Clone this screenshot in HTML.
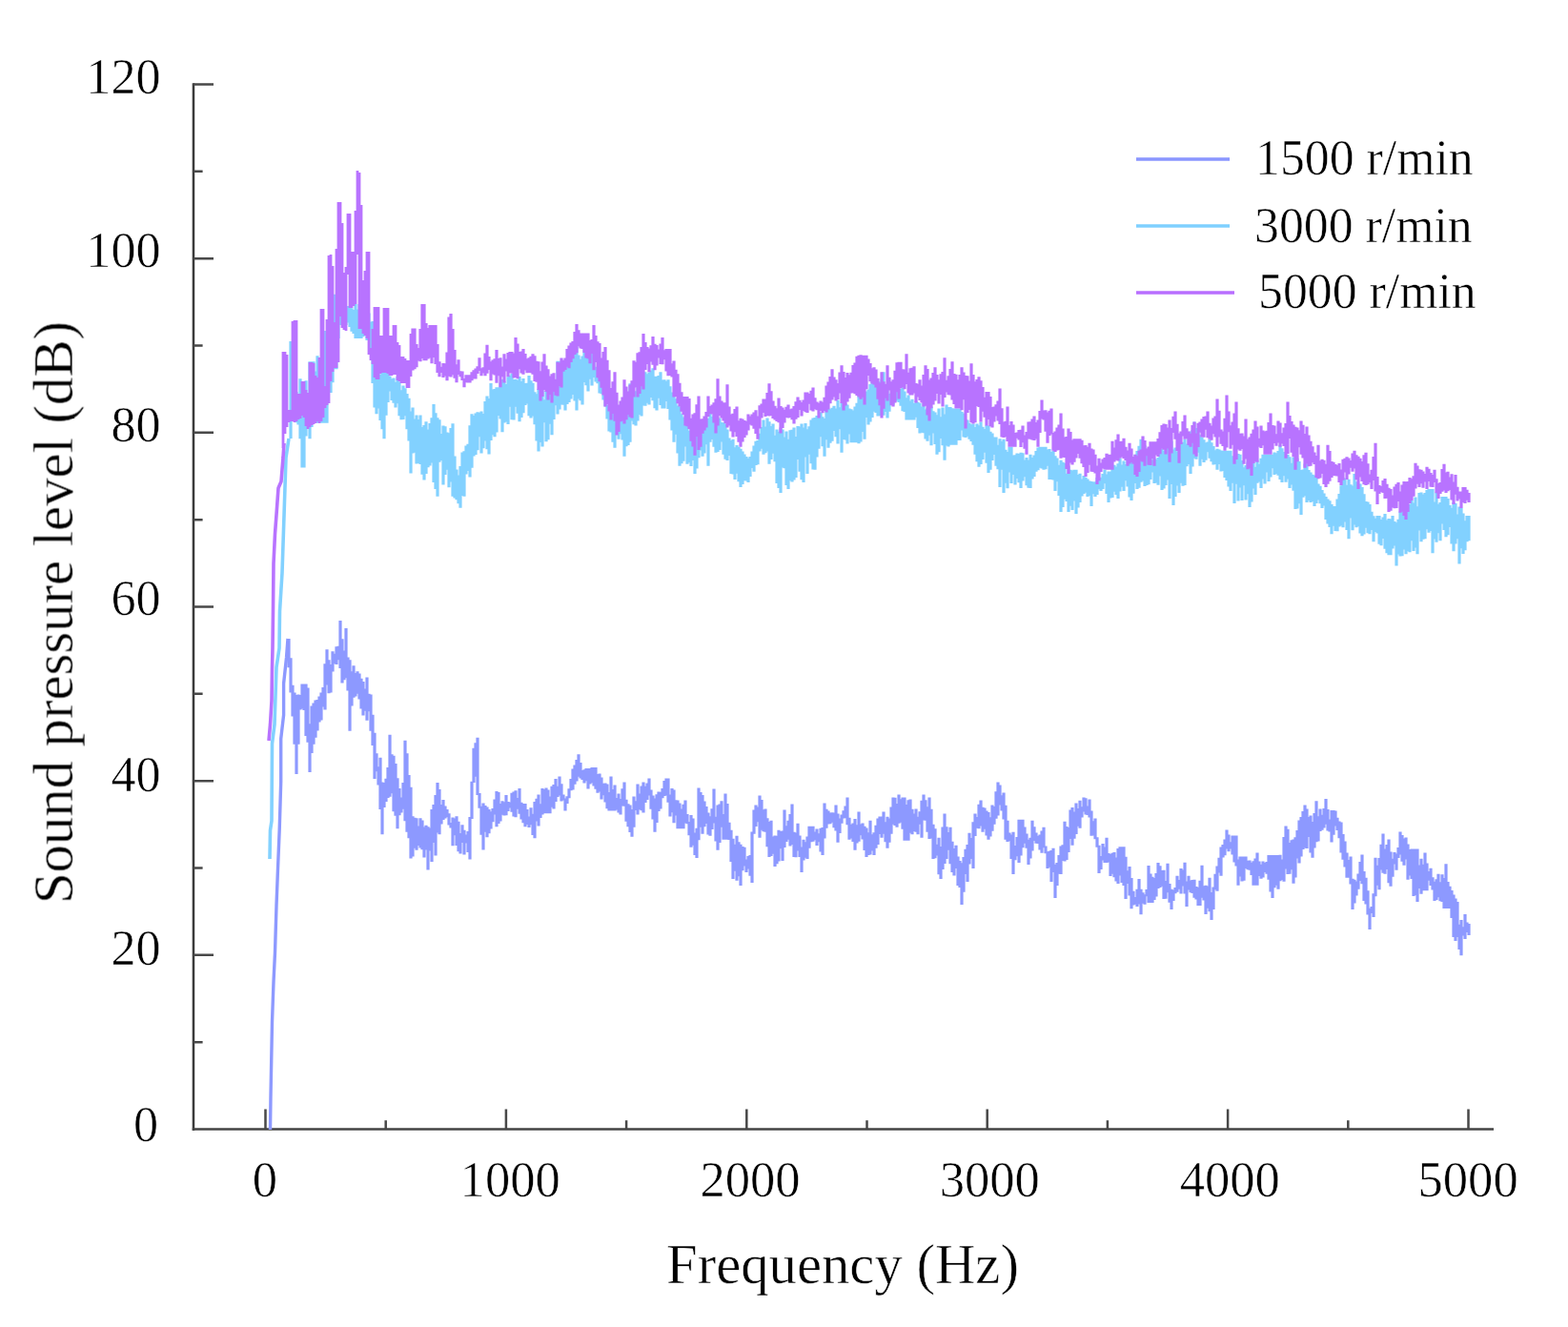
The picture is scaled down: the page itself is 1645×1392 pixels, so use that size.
<!DOCTYPE html>
<html lang="en">
<head>
<meta charset="utf-8">
<title>Sound pressure level vs frequency</title>
<style>
html,body{margin:0;padding:0;background:#ffffff;}
body{width:1645px;height:1392px;overflow:hidden;}
svg{display:block;}
text{font-family:"Liberation Serif","DejaVu Serif",serif;fill:#000;stroke:#fff;stroke-width:0.55px;stroke-linejoin:round;}
.ln{fill:none;stroke-linejoin:bevel;stroke-linecap:butt;}
</style>
</head>
<body>
<svg width="1645" height="1392" viewBox="0 0 1645 1392">
<defs>
<filter id="soft" x="-2%" y="-2%" width="104%" height="104%" color-interpolation-filters="sRGB"><feGaussianBlur stdDeviation="0.7"/></filter>
</defs>
<rect width="1645" height="1392" fill="#ffffff"/>
<g id="chart" filter="url(#soft)">
<g id="axes">
<path d="M202.7 87.3 V1186.1" fill="none" stroke="#9a9a9a" stroke-opacity="0.3" stroke-width="3.8"/>
<path d="M203 87.3 V1186.1" fill="none" stroke="#3a3a3a" stroke-width="2.3"/>
<path d="M201.8 1184.5 H1567" fill="none" stroke="#444444" stroke-width="2.6"/>
<path d="M203 1093.2 h9.6 M203 1001.8 h21 M203 910.5 h9.6 M203 819.2 h21 M203 727.8 h9.6 M203 636.5 h21 M203 545.2 h9.6 M203 453.8 h21 M203 362.5 h9.6 M203 271.2 h21 M203 179.8 h9.6 M203 88.5 h21 M278.5 1184.5 v-21 M404.7 1184.5 v-9.3 M530.9 1184.5 v-21 M657.1 1184.5 v-9.3 M783.3 1184.5 v-21 M909.5 1184.5 v-9.3 M1035.7 1184.5 v-21 M1161.9 1184.5 v-9.3 M1288.1 1184.5 v-21 M1414.3 1184.5 v-9.3 M1540.5 1184.5 v-21" fill="none" stroke="#484848" stroke-width="2.5"/>
</g>
<g id="labels">
<text x="166.2" y="1197.1" text-anchor="end" font-size="52.2">0</text>
<text x="168.6" y="1012.1" text-anchor="end" font-size="52.2">20</text>
<text x="168.6" y="830.3" text-anchor="end" font-size="52.2">40</text>
<text x="168.6" y="644.9" text-anchor="end" font-size="52.2">60</text>
<text x="168.6" y="463.3" text-anchor="end" font-size="52.2">80</text>
<text x="168.6" y="279.8" text-anchor="end" font-size="52.2">100</text>
<text x="168.6" y="98.4" text-anchor="end" font-size="52.2">120</text>
<text x="277.8" y="1255.4" text-anchor="middle" font-size="52.6">0</text>
<text x="535.2" y="1255.4" text-anchor="middle" font-size="52.6">1000</text>
<text x="787.0" y="1255.4" text-anchor="middle" font-size="52.6">2000</text>
<text x="1038.3" y="1255.4" text-anchor="middle" font-size="52.6">3000</text>
<text x="1290.3" y="1255.4" text-anchor="middle" font-size="52.6">4000</text>
<text x="1540.1" y="1255.4" text-anchor="middle" font-size="52.6">5000</text>
<text x="884" y="1345.6" text-anchor="middle" font-size="58.7">Frequency (Hz)</text>
<text transform="translate(75.8,642.5) rotate(-90)" text-anchor="middle" font-size="58.7">Sound pressure level (dB)</text>
</g>
<g id="series">
<path class="ln" stroke="#8d99ff" stroke-width="3.4" d="M283.5 1185.0 L284.0 1150.0 L285.5 1072.0 L287.0 1030.0 L288.5 999.0 L290.0 950.0 L291.4 914.0 L293.2 870.0 L294.7 820.0 L294.7 775.0 L297.6 750.0 L297.6 717.0 L300.5 690.0 L302.0 670.0"/>
<path class="ln" stroke="#8d99ff" stroke-width="3.2" d="M303 670.0V700.3M305 690.3V726.5M307 718.7V751.6M309 726.5V780.8M311 729.0V811.9M313 728.5V780.8M315 729.0V744.6M317 717.4V743.4M319 717.4V745.0M321 717.4V772.1M323 721.4V778.8M325 759.2V809.9M327 740.5V790.1M329 737.5V780.8M331 734.5V773.7M333 733.9V766.6M335 730.4V757.4M337 726.5V755.6M339 720.9V741.4M341 696.3V744.6M343 681.2V718.6M345 692.3V727.3M347 696.9V726.5M349 683.2V704.4M351 685.7V696.3M353 678.2V697.0M355 677.7V692.2M357 651.1V700.9M359 670.2V716.4M361 682.5V713.2M363 659.1V711.2M365 689.5V724.5M367 692.3V766.7M369 704.2V740.5M371 698.3V731.7M373 706.1V730.5M375 704.3V727.7M377 706.4V733.4M379 711.8V743.4M381 715.0V750.6M383 722.4V745.8M385 710.4V755.7M387 727.8V746.3M389 728.5V766.7M391 749.7V781.9M393 768.7V817.0M395 790.2V809.2M397 804.2V823.5M399 794.8V849.1M401 820.5V875.3M403 821.0V847.1M405 816.8V841.1M407 804.9V837.1M409 770.7V835.7M411 791.2V832.2M413 792.8V851.2M415 800.9V855.8M417 816.3V869.3M419 827.0V855.3M421 836.6V852.4M423 821.0V848.7M425 776.7V861.2M427 790.2V872.8M429 812.9V879.3M431 825.8V900.4M433 856.2V898.6M435 857.8V889.8M437 858.3V891.7M439 866.5V887.0M441 858.2V889.4M443 860.5V891.3M445 867.5V899.4M447 865.7V891.5M449 867.2V912.5M451 868.6V892.4M453 849.1V903.9M455 844.1V884.0M457 834.0V897.4M459 821.0V873.6M461 827.9V875.3M463 844.0V864.5M465 839.1V860.1M467 845.6V858.4M469 848.9V857.2M471 853.2V865.4M473 863.0V868.6M475 857.4V887.3M477 858.4V876.3M479 856.2V887.0M481 861.8V893.2M483 873.9V895.4M485 865.2V883.9M487 870.7V896.5M489 875.6V884.5M491 872.0V893.9M493 857.1V901.4M495 819.7V859.1M497 784.8V821.0M499 779.2V814.7M501 773.7V834.1M503 832.1V847.8M505 845.8V875.7M507 842.6V891.4M509 845.1V872.8M511 846.5V878.3M513 849.0V874.3M515 851.3V869.6M517 848.1V862.3M519 838.6V854.4M521 830.0V867.2M523 831.1V864.1M525 843.1V861.4M527 840.3V854.7M529 841.3V855.6M531 834.1V855.2M533 840.9V850.9M535 841.5V847.5M537 831.7V851.7M539 830.5V856.6M541 829.2V857.2M543 837.1V848.7M545 827.0V853.7M547 841.8V859.5M549 843.0V863.3M551 843.1V867.2M553 849.1V864.9M555 856.5V868.0M557 847.2V865.2M559 853.7V876.1M561 841.1V879.3M563 837.7V861.5M565 833.6V866.4M567 843.2V857.9M569 827.0V854.4M571 828.0V853.2M573 826.5V853.2M575 828.6V853.2M577 835.5V853.2M579 824.7V846.7M581 822.9V848.6M583 817.0V841.1M585 824.8V835.9M587 814.4V834.5M589 822.2V840.6M591 833.6V839.6M593 837.6V850.6M595 835.3V843.0M597 827.2V837.3M599 817.0V829.2M601 806.4V828.5M603 802.5V822.8M605 797.0V819.4M607 791.3V814.7M609 800.0V816.4M611 808.0V818.1M613 807.2V821.6M615 805.9V819.2M617 805.9V827.5M619 805.9V822.5M621 804.9V821.3M623 804.9V824.5M625 804.9V827.7M627 812.0V831.7M629 811.5V830.5M631 815.4V838.5M633 821.7V834.2M635 821.4V841.6M637 822.4V848.3M639 831.1V850.6M641 814.4V850.6M643 828.0V850.6M645 823.5V850.6M647 837.1V849.5M649 832.5V852.6M651 838.1V854.6M653 827.3V845.6M655 820.4V845.8M657 838.8V861.7M659 843.2V867.3M661 844.6V872.9M663 849.1V877.8M665 835.5V867.7M667 840.3V850.0M669 822.4V854.6M671 832.4V849.3M673 824.6V850.2M675 820.4V852.6M677 824.7V841.9M679 821.4V839.0M681 816.4V834.5M683 828.6V848.7M685 834.5V859.4M687 837.4V872.7M689 833.3V863.0M691 830.5V851.0M693 830.7V848.6M695 827.0V837.2M697 818.9V835.1M699 816.4V834.5M701 816.4V841.7M703 833.4V856.6M705 826.9V852.2M707 828.5V863.3M709 839.3V855.4M711 839.5V869.2M713 842.6V869.2M715 848.5V869.2M717 843.7V869.2M719 839.5V863.5M721 854.1V864.2M723 862.0V876.2M725 855.1V888.8M727 858.6V886.7M729 873.5V896.9M731 868.7V899.9M733 826.5V881.2M735 831.0V867.7M737 834.0V874.7M739 840.5V867.2M741 846.0V864.0M743 852.6V875.6M745 856.2V876.7M747 848.2V869.9M749 827.5V863.6M751 856.7V882.4M753 844.6V891.8M755 843.4V884.0M757 840.2V867.8M759 854.0V880.8M761 832.5V880.8M763 842.9V880.8M765 862.7V881.1M767 870.7V904.0M769 879.7V922.0M771 885.7V913.8M773 876.7V923.7M775 883.2V919.3M777 885.7V929.0M779 887.9V913.2M781 888.8V908.5M783 901.6V915.0M785 898.1V911.4M787 896.9V918.7M789 872.4V926.0M791 849.6V874.7M793 844.5V867.0M795 846.5V862.3M797 834.5V878.8M799 839.1V870.7M801 849.2V872.3M803 848.6V872.7M805 858.3V888.2M807 862.0V898.9M809 860.7V897.9M811 877.4V895.7M813 876.6V908.9M815 876.7V906.2M817 870.7V903.6M819 871.9V890.2M821 871.5V902.9M823 849.6V889.0M825 866.2V883.0M827 860.7V880.8M829 853.9V887.4M831 843.6V885.9M833 872.7V898.9M835 873.5V899.2M837 863.7V892.6M839 876.6V899.1M841 888.4V915.0M843 880.8V902.4M845 883.2V899.7M847 877.6V900.9M849 866.7V889.7M851 866.7V883.2M853 866.7V882.8M855 872.6V881.3M857 869.5V886.9M859 874.2V883.3M861 868.7V893.6M863 868.1V896.9M865 842.6V879.5M867 848.8V868.7M869 850.6V864.5M871 852.6V864.2M873 852.3V862.7M875 852.6V868.2M877 844.6V871.6M879 853.5V883.8M881 858.6V874.1M883 854.5V863.7M885 850.3V858.6M887 845.5V858.3M889 836.5V865.2M891 857.8V880.8M893 864.7V879.6M895 863.4V883.1M897 859.0V891.8M899 865.3V884.4M901 851.6V882.8M903 864.6V876.2M905 863.6V880.4M907 866.7V892.0M909 868.6V898.9M911 873.2V896.9M913 860.7V896.6M915 875.2V892.4M917 873.3V896.9M919 865.8V889.8M921 858.6V886.0M923 856.4V874.9M925 856.4V878.8M927 851.6V874.7M929 862.2V883.2M931 856.7V889.8M933 858.6V883.7M935 846.5V874.7M937 836.5V864.7M939 836.8V865.9M941 843.0V867.7M943 833.5V863.7M945 838.3V862.7M947 836.4V869.7M949 836.5V881.8M951 844.1V881.8M953 839.3V881.8M955 838.5V873.7M957 848.8V875.3M959 853.4V871.9M961 848.6V872.7M963 856.8V875.2M965 851.3V864.7M967 839.7V878.8M969 833.5V860.6M971 839.3V860.7M973 846.2V872.7M975 836.5V880.1M977 848.8V879.6M979 864.7V900.9M981 869.2V900.3M983 885.7V897.5M985 878.8V917.2M987 888.1V922.0M989 867.4V912.1M991 853.6V906.0M993 867.2V900.9M995 872.9V891.8M997 867.7V906.3M999 882.7V915.0M1001 889.9V918.4M1003 886.8V910.9M1005 898.6V929.0M1007 903.1V931.0M1009 905.2V949.1M1011 898.9V935.8M1013 890.8V917.0M1015 886.1V925.0M1017 873.7V906.5M1019 878.9V901.0M1021 862.2V910.9M1023 853.6V876.9M1025 857.0V868.7M1027 843.7V869.2M1029 839.5V866.4M1031 846.7V872.7M1033 847.5V869.8M1035 850.6V876.5M1037 851.9V880.8M1039 857.3V877.4M1041 844.6V871.7M1043 846.1V864.7M1045 830.2V858.7M1047 820.4V855.4M1049 823.4V844.6M1051 834.2V850.6M1053 831.5V859.4M1055 844.7V880.8M1057 860.7V883.1M1059 873.4V882.2M1061 875.4V900.9M1063 872.7V917.0M1065 886.9V902.2M1067 877.9V898.3M1069 859.7V904.9M1071 859.7V897.5M1073 859.7V889.2M1075 867.6V884.8M1077 874.5V889.7M1079 880.8V906.9M1081 878.8V900.6M1083 860.7V892.6M1085 867.3V882.0M1087 873.4V884.8M1089 876.7V884.9M1091 875.6V891.4M1093 871.4V894.8M1095 867.7V889.3M1097 887.4V895.2M1099 893.2V910.9M1101 892.8V909.8M1103 891.9V925.0M1105 889.8V915.1M1107 906.8V942.1M1109 905.1V928.9M1111 896.9V916.8M1113 887.6V917.0M1115 886.2V902.9M1117 861.7V903.6M1119 867.0V901.9M1121 868.1V894.1M1123 849.6V880.1M1125 847.1V886.8M1127 851.5V879.8M1129 842.6V874.9M1131 847.9V866.7M1133 839.7V868.7M1135 846.2V857.4M1137 836.5V851.6M1139 837.3V854.6M1141 845.5V854.9M1143 838.5V857.5M1145 850.5V876.7M1147 861.3V876.4M1149 858.6V880.2M1151 878.2V888.8M1153 886.8V916.0M1155 897.9V911.9M1157 885.1V902.5M1159 888.4V904.9M1161 878.8V905.1M1163 895.0V904.6M1165 896.1V919.0M1167 894.8V916.8M1169 893.9V920.2M1171 899.4V924.5M1173 890.0V927.0M1175 888.3V918.5M1177 888.3V925.9M1179 888.3V928.9M1181 898.7V943.1M1183 913.2V926.9M1185 908.9V939.6M1187 920.9V953.2M1189 934.7V949.4M1191 941.1V948.8M1193 932.7V951.0M1195 922.0V948.5M1197 932.8V959.2M1199 936.2V947.7M1201 938.2V948.7M1203 933.1V940.2M1205 907.9V947.1M1207 916.5V947.1M1209 919.8V947.1M1211 921.0V943.9M1213 915.9V940.4M1215 904.9V931.9M1217 908.3V931.0M1219 913.0V929.8M1221 912.8V943.0M1223 924.1V942.7M1225 905.7V936.3M1227 927.0V946.7M1229 932.8V953.9M1231 933.5V945.0M1233 931.1V937.2M1235 918.8V935.7M1237 922.9V932.8M1239 911.0V937.6M1241 912.5V929.4M1243 904.7V937.4M1245 924.5V950.9M1247 918.8V933.4M1249 923.5V936.2M1251 923.0V936.9M1253 922.8V941.8M1255 930.0V943.4M1257 930.8V949.9M1259 923.8V950.1M1261 907.7V941.8M1263 929.3V944.6M1265 928.8V959.0M1267 929.4V952.7M1269 920.8V956.3M1271 936.1V965.0M1273 930.5V954.0M1275 916.7V933.3M1277 908.4V934.8M1279 899.8V915.5M1281 888.6V918.8M1283 886.0V899.5M1285 880.5V897.2M1287 870.5V890.6M1289 875.6V893.2M1291 883.3V890.5M1293 876.5V896.6M1295 876.5V904.5M1297 876.5V908.4M1299 901.4V928.8M1301 898.6V919.4M1303 898.6V924.4M1305 898.6V923.8M1307 898.6V911.0M1309 902.8V912.3M1311 902.5V912.7M1313 904.7V918.1M1315 903.3V928.8M1317 900.4V928.8M1319 894.6V928.8M1321 903.4V919.1M1323 906.7V921.8M1325 903.4V920.5M1327 905.0V914.9M1329 904.1V916.7M1331 897.1V922.7M1333 897.1V935.5M1335 897.1V941.9M1337 897.1V931.3M1339 897.1V928.8M1341 897.1V932.8M1343 896.8V924.2M1345 901.4V923.1M1347 878.1V924.8M1349 866.5V911.4M1351 869.7V916.9M1353 883.9V916.7M1355 881.2V912.2M1357 880.5V926.8M1359 878.3V920.5M1361 871.1V900.6M1363 860.4V905.6M1365 857.0V898.6M1367 850.9V890.9M1369 844.4V889.6M1371 848.5V890.1M1373 856.9V878.1M1375 855.4V894.6M1377 862.1V899.7M1379 853.1V889.4M1381 840.3V883.3M1383 856.3V882.6M1385 848.4V872.1M1387 854.8V870.8M1389 848.0V868.5M1391 837.9V864.8M1393 849.1V871.5M1395 859.4V872.5M1397 849.9V883.6M1399 849.9V875.7M1401 850.4V866.5M1403 857.8V871.1M1405 861.4V879.3M1407 862.4V894.6M1409 874.9V901.7M1411 882.6V909.4M1413 894.6V920.8M1415 902.0V920.8M1417 898.6V927.6M1419 921.7V953.9M1421 922.8V947.6M1423 924.5V939.5M1425 916.5V932.8M1427 904.1V923.9M1429 896.6V927.3M1431 914.1V944.9M1433 920.8V948.6M1435 934.2V959.4M1437 952.7V975.1M1439 950.9V957.9M1441 937.3V962.0M1443 899.7V940.2M1445 907.8V928.7M1447 900.1V933.3M1449 885.8V912.6M1451 874.5V915.7M1453 890.6V916.7M1455 886.0V912.1M1457 880.5V926.2M1459 893.6V929.8M1461 900.7V919.8M1463 893.9V906.6M1465 895.5V912.7M1467 888.9V899.9M1469 872.5V896.4M1471 875.9V903.7M1473 879.4V907.8M1475 878.5V901.4M1477 885.6V922.8M1479 891.1V918.6M1481 890.6V922.0M1483 890.6V939.9M1485 890.6V939.0M1487 890.6V945.9M1489 907.4V932.1M1491 900.7V937.8M1493 906.7V934.3M1495 894.6V934.3M1497 905.4V934.3M1499 913.9V923.8M1501 910.7V929.0M1503 920.2V933.6M1505 924.8V944.9M1507 922.3V944.1M1509 916.7V941.2M1511 925.2V945.2M1513 917.2V945.9M1515 921.1V952.9M1517 906.3V952.9M1519 924.9V952.9M1521 929.8V952.9M1523 933.9V962.9M1525 938.4V983.1M1527 942.6V987.1M1529 945.9V982.9M1531 969.8V995.9M1533 965.0V1002.2M1535 972.2V981.4M1537 959.0V985.1M1539 967.4V978.1M1541 969.0V981.1"/>
<path class="ln" stroke="#82d1ff" stroke-width="3.6" d="M283.0 901.0 L283.5 871.0 L285.0 861.0 L285.5 780.0 L288.0 760.0 L290.0 700.0 L293.0 680.0 L293.5 641.0 L296.0 601.0 L298.0 541.0 L300.0 480.0 L303.0 460.0"/>
<path class="ln" stroke="#82d1ff" stroke-width="3.2" d="M305 358.1V460.0M307 404.8V408.6M309 371.2V418.6M311 411.0V443.2M313 415.1V445.4M315 397.3V460.3M317 418.1V490.5M319 418.6V490.5M321 399.3V457.4M323 425.1V446.0M325 379.2V460.3M327 379.2V448.1M329 379.2V443.7M331 389.5V443.7M333 373.2V443.7M335 376.3V443.7M337 381.3V443.7M339 375.7V443.7M341 347.0V443.7M343 387.9V443.7M345 341.0V399.9M347 324.8V412.1M349 308.8V401.3M351 308.8V387.2M353 316.2V387.2M355 324.2V355.0M357 326.9V341.0M359 325.8V341.0M361 326.6V341.0M363 323.8V341.0M365 320.9V338.5M367 320.9V343.1M369 323.3V347.8M371 325.0V350.0M373 318.9V355.1M375 324.4V355.1M377 318.9V355.1M379 314.8V355.1M381 315.7V353.3M383 316.7V339.9M385 312.8V357.1M387 328.5V352.8M389 337.7V369.1M391 337.0V402.0M393 361.9V427.5M395 370.0V434.2M397 381.2V428.6M399 392.8V441.0M401 385.9V450.3M403 390.3V460.3M405 387.2V435.7M407 391.5V422.1M409 394.4V410.5M411 397.3V420.1M413 396.6V422.7M415 400.8V427.4M417 395.3V423.2M419 400.5V436.3M421 409.2V440.2M423 404.6V440.1M425 407.3V436.2M427 413.0V450.3M429 417.7V462.4M431 431.6V496.5M433 427.5V475.4M435 439.4V474.7M437 435.4V486.5M439 439.9V486.0M441 435.5V486.9M443 448.0V497.8M445 446.0V503.6M447 442.2V497.0M449 450.6V490.2M451 444.0V488.5M453 438.2V485.6M455 424.1V506.0M457 433.3V513.0M459 438.2V520.7M461 440.2V484.7M463 455.1V483.1M465 446.4V508.6M467 447.3V498.0M469 453.4V492.7M471 454.3V511.3M473 449.1V505.5M475 444.2V520.7M477 478.4V522.5M479 492.5V524.2M481 498.5V528.2M483 488.9V532.7M485 474.4V520.0M487 473.2V520.7M489 467.4V497.6M491 465.7V494.0M493 446.3V500.5M495 434.2V490.7M497 436.0V478.4M499 433.4V477.0M501 432.2V472.2M503 432.7V458.3M505 431.4V475.4M507 434.1V470.3M509 421.1V462.5M511 415.4V471.3M513 418.1V476.4M515 402.0V462.1M517 408.6V456.3M519 408.0V458.3M521 406.3V453.6M523 406.2V436.0M525 401.4V439.6M527 398.0V453.3M529 400.0V443.5M531 403.0V442.6M533 395.2V445.0M535 393.8V426.8M537 392.0V440.2M539 397.9V440.5M541 397.8V426.7M543 398.8V433.8M545 395.1V442.2M547 400.1V438.1M549 397.1V433.2M551 402.0V424.9M553 401.7V423.4M555 394.0V436.2M557 399.2V438.4M559 401.8V436.5M561 411.2V445.3M563 413.2V462.6M565 408.0V473.4M567 409.2V464.0M569 409.2V468.6M571 419.3V443.2M573 410.1V463.3M575 407.7V461.3M577 405.6V444.8M579 395.9V456.3M581 400.0V440.1M583 398.1V425.2M585 378.7V434.5M587 378.7V429.6M589 378.7V424.4M591 378.7V424.8M593 387.0V430.5M595 379.7V424.0M597 374.2V421.9M599 375.2V418.4M601 369.0V414.0M603 370.0V420.4M605 364.1V430.5M607 372.6V418.4M609 376.8V420.2M611 373.4V424.5M613 366.1V401.1M615 366.1V404.3M617 366.1V410.4M619 366.1V397.8M621 368.7V404.4M623 379.1V395.9M625 384.7V400.5M627 388.2V402.2M629 392.3V412.4M631 405.9V413.3M633 411.3V419.6M635 416.4V426.5M637 424.8V439.6M639 426.4V452.6M641 428.5V453.6M643 433.3V463.7M645 436.3V469.7M647 435.8V453.0M649 436.5V460.7M651 433.9V455.3M653 432.6V461.4M655 427.1V478.8M657 420.4V468.2M659 413.3V466.9M661 402.3V463.7M663 404.5V441.6M665 411.2V445.3M667 410.2V446.6M669 406.4V441.4M671 401.9V434.9M673 400.0V436.5M675 393.3V425.5M677 390.3V425.7M679 392.2V422.7M681 390.4V424.5M683 388.5V417.1M685 386.3V420.2M687 394.8V428.3M689 394.8V430.5M691 393.9V417.7M693 390.3V425.1M695 398.4V428.4M697 398.3V428.5M699 399.7V421.0M701 398.3V428.9M703 405.3V440.5M705 411.5V451.5M707 412.4V463.7M709 418.3V455.7M711 425.5V475.6M713 426.5V488.8M715 434.3V486.3M717 437.4V483.7M719 446.0V468.6M721 440.5V486.8M723 452.1V485.3M725 447.2V489.0M727 450.8V483.0M729 452.6V496.9M731 457.7V491.5M733 456.2V480.2M735 451.4V472.6M737 448.6V478.8M739 449.7V475.5M741 442.8V466.2M743 439.1V488.8M745 426.5V463.7M747 437.1V461.1M749 434.9V468.8M751 436.5V474.7M753 439.6V473.9M755 438.5V472.1M757 443.1V463.5M759 443.2V476.7M761 444.6V481.7M763 450.4V483.0M765 459.5V478.0M767 462.1V496.9M769 460.7V497.6M771 469.3V502.9M773 467.0V496.7M775 468.7V505.2M777 470.7V510.9M779 473.6V507.9M781 476.6V504.3M783 479.0V504.4M785 480.8V505.9M787 479.1V500.1M789 473.4V491.0M791 467.6V494.8M793 462.7V487.9M795 461.9V487.2M797 454.7V473.6M799 448.1V470.8M801 440.5V476.7M803 447.6V475.2M805 438.5V473.5M807 442.2V486.8M809 447.1V481.9M811 444.6V475.7M813 456.8V484.2M815 450.5V506.9M817 452.7V512.0M819 448.6V517.0M821 450.5V490.6M823 458.5V491.3M825 452.6V509.0M827 460.7V512.9M829 451.3V504.3M831 450.8V505.5M833 448.6V503.5M835 458.1V500.9M837 446.9V482.0M839 447.4V494.7M841 444.6V503.3M843 448.4V505.9M845 444.0V479.5M847 450.3V496.9M849 447.2V476.7M851 440.5V486.3M853 438.5V492.6M855 437.9V492.8M857 436.1V479.6M859 436.4V470.7M861 432.5V458.2M863 437.2V468.3M865 439.1V478.8M867 430.2V461.3M869 428.5V469.8M871 429.3V464.7M873 427.8V462.7M875 425.8V451.9M877 428.5V458.3M879 419.4V465.6M881 427.2V450.3M883 422.5V474.7M885 428.3V461.0M887 423.2V461.5M889 424.5V465.6M891 428.5V455.6M893 429.3V464.2M895 430.5V464.2M897 426.5V464.2M899 422.7V464.2M901 406.4V465.2M903 408.3V463.4M905 414.2V452.9M907 410.7V460.7M909 410.4V438.1M911 408.4V445.5M913 403.0V442.6M915 400.3V438.1M917 400.3V431.8M919 400.3V432.9M921 403.6V436.5M923 400.2V436.2M925 397.7V434.4M927 390.3V435.8M929 403.3V431.9M931 406.4V438.5M933 412.9V431.8M935 412.6V424.1M937 413.4V424.5M939 412.4V421.6M941 411.0V420.4M943 409.1V422.1M945 407.7V425.7M947 406.4V431.2M949 410.5V432.0M951 417.2V440.5M953 414.4V440.5M955 420.5V440.5M957 418.8V440.5M959 423.0V440.4M961 420.4V437.7M963 421.7V449.0M965 423.0V454.6M967 426.5V453.7M969 422.4V454.3M971 429.5V460.5M973 428.3V462.7M975 426.3V456.7M977 426.5V467.3M979 431.2V454.4M981 432.6V466.1M983 435.2V476.7M985 428.5V474.2M987 437.2V460.0M989 427.4V467.3M991 434.5V482.8M993 424.5V467.4M995 426.9V468.6M997 426.9V466.7M999 428.2V466.7M1001 428.5V466.7M1003 428.5V466.7M1005 428.5V462.1M1007 428.5V462.1M1009 432.0V451.4M1011 433.5V458.6M1013 439.8V459.0M1015 440.5V457.8M1017 443.7V460.7M1019 445.3V463.0M1021 444.6V466.8M1023 448.1V476.7M1025 444.5V484.2M1027 446.3V489.8M1029 442.6V487.0M1031 447.8V482.0M1033 450.0V474.7M1035 446.1V485.7M1037 446.6V495.9M1039 452.7V492.7M1041 454.5V482.9M1043 458.4V477.0M1045 458.6V488.8M1047 466.7V492.3M1049 460.2V510.9M1051 462.8V492.8M1053 460.7V517.0M1055 471.8V506.7M1057 473.9V512.3M1059 468.7V495.6M1061 468.7V506.9M1063 477.6V498.0M1065 477.3V508.5M1067 475.6V502.1M1069 475.9V506.3M1071 474.7V511.9M1073 475.2V504.5M1075 482.5V500.2M1077 480.1V509.2M1079 482.5V511.8M1081 476.7V511.9M1083 480.1V502.5M1085 477.6V500.0M1087 473.1V494.8M1089 469.4V493.2M1091 468.7V490.7M1093 468.7V491.4M1095 468.7V492.8M1097 468.7V492.2M1099 471.4V488.7M1101 471.0V502.9M1103 474.0V503.0M1105 472.7V503.4M1107 478.2V515.0M1109 480.4V505.3M1111 487.7V520.1M1113 482.8V537.1M1115 484.8V531.9M1117 485.7V523.8M1119 496.8V525.9M1121 488.8V537.1M1123 492.8V530.7M1125 493.6V535.0M1127 492.8V525.5M1129 492.8V539.1M1131 498.1V532.4M1133 496.8V527.0M1135 502.6V520.6M1137 498.9V517.9M1139 500.8V516.8M1141 502.6V521.0M1143 504.6V520.0M1145 504.9V531.0M1147 505.4V518.3M1149 505.3V521.1M1151 500.9V519.0M1153 501.7V513.2M1155 500.7V515.0M1157 497.0V512.9M1159 492.8V507.3M1161 497.6V518.0M1163 494.6V527.0M1165 494.4V522.6M1167 488.8V521.9M1169 487.8V515.7M1171 489.5V519.1M1173 486.2V523.0M1175 480.8V515.5M1177 487.6V510.8M1179 483.6V515.0M1181 487.1V504.3M1183 482.8V510.6M1185 483.9V521.6M1187 483.1V525.0M1189 486.7V517.7M1191 476.7V507.0M1193 473.0V512.9M1195 467.8V511.8M1197 460.7V505.7M1199 472.4V504.5M1201 467.2V509.9M1203 470.7V508.9M1205 476.9V508.3M1207 476.3V503.1M1209 482.6V495.4M1211 480.8V506.9M1213 481.8V506.6M1215 480.0V508.7M1217 475.6V499.4M1219 470.7V513.9M1221 472.7V512.6M1223 471.5V509.1M1225 467.2V503.4M1227 475.7V522.9M1229 462.7V507.9M1231 471.6V530.0M1233 469.6V521.1M1235 473.6V509.6M1237 464.7V517.0M1239 465.7V506.8M1241 463.8V509.8M1243 460.7V508.9M1245 465.5V489.2M1247 458.9V487.0M1249 452.6V496.9M1251 450.9V489.5M1253 442.6V480.8M1255 448.9V481.8M1257 454.0V474.8M1259 456.2V488.8M1261 458.6V481.8M1263 461.2V484.9M1265 464.3V482.8M1267 463.5V474.3M1269 460.7V480.8M1271 464.2V484.3M1273 468.1V487.6M1275 472.3V487.1M1277 470.7V492.8M1279 471.4V486.9M1281 472.5V494.4M1283 472.7V494.1M1285 472.7V500.9M1287 472.7V503.9M1289 472.7V510.5M1291 472.7V515.0M1293 478.2V506.7M1295 479.8V528.0M1297 475.8V507.7M1299 476.1V525.4M1301 476.7V511.4M1303 482.9V525.0M1305 490.2V509.2M1307 487.9V524.6M1309 484.8V518.3M1311 484.8V532.0M1313 484.8V526.6M1315 484.8V512.4M1317 489.8V519.0M1319 482.7V506.8M1321 486.8V505.6M1323 480.7V511.9M1325 476.7V502.6M1327 476.7V507.4M1329 476.7V495.6M1331 476.7V504.9M1333 476.7V500.5M1335 476.7V491.3M1337 474.5V498.1M1339 475.2V496.9M1341 472.9V498.7M1343 466.7V502.9M1345 470.3V505.9M1347 474.1V499.2M1349 479.9V505.7M1351 476.7V502.4M1353 479.2V511.9M1355 485.8V508.4M1357 479.4V514.7M1359 482.8V534.1M1361 480.8V533.5M1363 483.9V528.3M1365 493.1V540.1M1367 492.4V521.8M1369 486.5V520.3M1371 486.8V527.0M1373 493.1V524.9M1375 495.4V527.1M1377 497.8V526.0M1379 498.5V531.0M1381 500.9V528.1M1383 507.5V524.6M1385 509.8V528.3M1387 514.0V533.1M1389 517.4V530.5M1391 521.0V545.1M1393 523.5V549.5M1395 525.3V552.9M1397 529.1V560.2M1399 530.9V551.7M1401 531.0V557.1M1403 523.5V557.2M1405 518.1V552.5M1407 509.2V551.5M1409 500.9V553.2M1411 501.7V547.6M1413 508.8V556.1M1415 502.8V565.2M1417 508.2V543.5M1419 509.5V556.3M1421 496.9V550.6M1423 505.2V553.2M1425 508.6V552.3M1427 507.4V559.4M1429 510.9V562.2M1431 518.2V560.6M1433 526.0V553.8M1435 526.6V559.2M1437 529.0V560.3M1439 536.7V555.9M1441 541.2V568.2M1443 543.8V558.0M1445 541.1V559.6M1447 541.1V570.8M1449 545.0V572.3M1451 542.4V565.1M1453 539.1V575.7M1455 545.4V580.3M1457 543.9V582.3M1459 544.4V582.2M1461 541.1V575.6M1463 547.1V572.5M1465 548.2V593.4M1467 544.7V581.6M1469 536.5V583.4M1471 533.1V583.3M1473 536.9V576.6M1475 539.2V581.2M1477 535.9V578.3M1479 529.1V579.3M1481 525.0V567.3M1483 527.4V578.0M1485 521.6V574.6M1487 531.3V581.3M1489 517.0V556.6M1491 516.4V568.3M1493 518.4V565.8M1495 516.9V565.2M1497 513.9V555.2M1499 512.9V558.8M1501 512.9V557.0M1503 512.9V580.3M1505 526.5V565.5M1507 516.4V568.7M1509 528.7V559.2M1511 526.9V567.2M1513 521.0V549.6M1515 521.0V555.9M1517 521.0V563.2M1519 522.9V561.2M1521 530.1V553.0M1523 532.8V570.6M1525 527.0V578.3M1527 528.1V570.6M1529 539.6V565.3M1531 531.5V591.4M1533 533.1V575.3M1535 538.4V581.0M1537 546.3V577.3M1539 541.1V568.2M1541 541.1V567.2"/>
<path class="ln" stroke="#b873ff" stroke-width="3.6" d="M282.0 777.0 L283.5 760.0 L285.0 735.0 L285.5 700.0 L286.0 680.0 L286.5 640.0 L287.0 591.0 L288.5 560.0 L290.0 540.0 L292.0 512.0 L295.0 505.0 L297.0 480.0 L298.0 465.0"/>
<path class="ln" stroke="#b873ff" stroke-width="2.8" d="M297 369.0V470.0M299 369.0V455.0M301 372.0V448.0M303 430.0V443.0M305 430.0V442.0M307 337.0V442.0M309 336.0V443.0M311 336.0V442.0M313 413.0V440.0M315 413.0V439.0M317 400.0V436.0M319 400.0V438.0M321 409.0V447.0M323 412.0V450.0M325 380.0V448.0M327 380.0V446.0M329 381.0V445.0M331 394.0V444.0M333 396.0V442.0M335 375.0V444.0M337 324.0V442.0M339 324.0V438.0M341 405.0V428.0M343 335.0V425.0M345 268.0V423.0M347 267.0V400.0M349 279.0V390.0M351 338.0V386.0M353 261.0V386.0M355 212.0V380.0M357 212.0V332.0M359 234.0V344.0M361 286.0V346.0M363 280.0V347.0M365 224.0V288.0M367 224.0V323.0M369 264.0V323.0M371 264.0V321.0M373 221.0V319.0M375 179.0V267.0M377 181.0V345.0M379 215.0V345.0M381 294.0V350.0M383 284.0V352.0M385 264.0V355.0M387 264.0V372.0M389 365.0V378.0M391 345.0V382.0M393 322.0V396.0M395 322.0V398.0M397 322.0V398.0M399 352.0V392.0M401 352.0V391.0M403 323.0V391.0M405 323.0V391.0M407 323.0V392.0M409 352.0V394.0M411 352.0V394.0M413 341.0V393.0M415 341.0V393.0M417 359.0V399.0M419 362.0V400.0M421 374.0V402.0M423 374.0V402.0M425 376.0V402.0M427 378.0V407.0M429 378.0V407.0M431 350.0V395.0"/>
<path class="ln" stroke="#b873ff" stroke-width="3.2" d="M433 344.6V388.6M435 344.6V387.3M437 361.0V385.2M439 365.1V378.4M441 344.9V379.3M443 318.9V375.9M445 318.9V378.2M447 338.9V378.3M449 344.0V376.5M451 341.0V375.5M453 341.0V381.2M455 341.0V375.1M457 341.0V381.9M459 360.9V390.9M461 379.2V395.3M463 384.7V391.1M465 381.1V396.1M467 381.2V394.6M469 369.4V399.3M471 332.5V394.8M473 328.9V395.5M475 345.0V393.3M477 367.1V396.7M479 382.2V401.3M481 377.2V392.9M483 389.2V395.2M485 389.5V398.9M487 396.9V406.3M489 393.3V401.2M491 393.3V401.6M493 393.3V401.4M495 390.2V399.3M497 388.2V397.6M499 386.5V397.4M501 384.3V392.0M503 375.2V389.1M505 386.2V394.3M507 385.2V391.5M509 370.6V394.2M511 361.7V391.7M513 374.0V388.1M515 379.2V399.3M517 377.4V392.5M519 376.2V393.4M521 367.1V401.8M523 376.0V394.3M525 375.2V406.3M527 384.5V395.2M529 371.2V401.4M531 376.5V389.6M533 370.1V395.3M535 369.1V391.3M537 369.1V391.7M539 370.5V396.4M541 354.1V395.9M543 360.4V397.3M545 369.1V387.2M547 368.4V391.6M549 366.1V392.7M551 371.0V388.6M553 376.3V391.2M555 375.2V390.9M557 373.7V391.3M559 371.2V392.8M561 373.3V400.0M563 378.8V400.7M565 379.2V409.1M567 389.2V420.4M569 379.6V415.9M571 371.2V409.0M573 383.6V411.0M575 387.2V419.6M577 394.5V414.1M579 392.2V422.4M581 391.3V411.1M583 397.8V414.7M585 379.7V415.4M587 380.4V405.0M589 375.6V406.4M591 377.7V389.7M593 375.5V388.1M595 366.1V384.7M597 362.6V386.3M599 359.6V379.9M601 358.1V376.3M603 348.0V372.0M605 340.0V370.2M607 346.3V363.6M609 349.6V365.4M611 349.6V366.0M613 349.6V369.9M615 349.6V375.5M617 349.6V376.2M619 356.9V381.2M621 355.9V371.0M623 341.0V388.3M625 352.1V379.9M627 358.2V396.3M629 360.1V400.3M631 375.5V406.7M633 368.9V414.5M635 364.1V426.5M637 377.8V424.3M639 388.3V431.6M641 406.9V440.5M643 400.3V433.9M645 390.3V441.8M647 411.7V456.6M649 424.5V452.9M651 420.6V442.3M653 416.4V441.4M655 398.3V444.6M657 405.5V440.2M659 410.4V435.1M661 403.5V437.6M663 399.2V438.5M665 378.2V416.5M667 379.7V406.6M669 370.2V416.4M671 369.3V413.0M673 364.1V405.3M675 350.1V408.4M677 359.0V388.1M679 364.1V382.0M681 365.6V390.3M683 362.2V379.6M685 353.1V382.7M687 360.8V388.3M689 362.1V383.6M691 366.4V375.5M693 360.4V382.1M695 354.1V382.2M697 367.2V377.3M699 366.1V389.6M701 366.1V394.3M703 366.1V393.9M705 381.3V395.5M707 378.6V416.4M709 387.7V416.0M711 392.3V423.2M713 401.8V426.5M715 411.2V431.7M717 415.9V435.1M719 415.9V446.6M721 415.9V447.2M723 418.1V450.0M725 438.7V462.7M727 434.5V468.5M729 433.3V477.8M731 424.3V458.1M733 415.4V472.1M735 439.6V468.7M737 439.2V454.7M739 436.5V451.4M741 432.1V448.6M743 415.4V437.0M745 425.9V434.1M747 424.5V434.5M749 422.3V443.5M751 418.2V454.6M753 397.3V446.6M755 415.5V436.0M757 420.4V438.5M759 422.2V441.4M761 422.3V444.3M763 403.3V448.6M765 426.4V446.4M767 434.5V452.5M769 433.8V458.6M771 429.1V453.3M773 426.5V458.0M775 441.3V463.8M777 438.8V468.7M779 439.5V463.6M781 441.0V459.0M783 441.8V456.6M785 434.5V451.4M787 436.6V445.6M789 434.5V446.6M791 432.5V449.7M793 430.3V455.1M795 436.5V460.7M797 425.3V449.6M799 423.6V438.5M801 418.4V432.9M803 418.5V436.9M805 412.0V436.0M807 402.3V436.5M809 410.3V436.1M811 420.4V439.0M813 425.7V440.5M815 428.2V441.9M817 417.4V443.3M819 426.1V454.6M821 427.4V448.9M823 429.8V443.5M825 426.8V438.0M827 424.5V438.5M829 429.3V438.1M831 428.5V440.3M833 426.0V444.6M835 421.3V439.7M837 416.4V437.9M839 419.7V430.1M841 421.9V436.5M843 419.5V430.9M845 411.4V432.2M847 411.6V432.9M849 413.0V423.7M851 409.8V430.5M853 406.4V431.4M855 417.3V429.2M857 421.5V430.3M859 422.8V438.5M861 420.4V430.9M863 421.7V433.3M865 416.8V430.9M867 404.4V432.5M869 400.4V429.5M871 395.0V423.2M873 387.3V419.6M875 395.6V416.6M877 398.3V420.4M879 402.1V419.1M881 390.6V412.5M883 383.2V422.9M885 390.0V430.5M887 395.9V425.6M889 391.0V421.6M891 393.3V417.8M893 390.7V412.4M895 383.0V412.2M897 380.5V413.2M899 373.7V415.0M901 372.7V416.4M903 372.2V418.7M905 372.7V416.8M907 372.7V424.5M909 372.7V408.3M911 376.6V393.9M913 381.0V400.3M915 386.2V402.6M917 385.2V403.5M919 387.6V406.4M921 396.7V418.7M923 401.4V425.2M925 390.3V438.5M927 400.3V428.7M929 402.7V417.8M931 383.2V420.4M933 395.8V409.5M935 400.2V425.3M937 398.3V426.5M939 388.8V422.6M941 380.3V411.2M943 379.7V418.4M945 379.7V407.3M947 387.2V406.4M949 387.4V408.2M951 371.2V402.9M953 390.7V412.5M955 386.3V414.4M957 385.8V414.5M959 384.2V412.6M961 402.1V422.4M963 402.7V416.4M965 398.3V419.9M967 404.5V422.6M969 393.0V426.5M971 383.2V425.7M973 387.0V435.5M975 398.4V441.6M977 396.6V428.2M979 390.9V424.6M981 385.2V420.4M983 392.9V413.1M985 398.3V423.4M987 392.3V414.1M989 390.1V426.5M991 375.2V417.0M993 398.7V411.4M995 394.3V414.3M997 387.1V414.4M999 379.2V419.5M1001 392.0V424.1M1003 392.8V428.5M1005 398.3V428.5M1007 393.1V428.5M1009 385.2V430.2M1011 390.4V419.2M1013 394.0V449.6M1015 394.3V432.9M1017 399.4V430.1M1019 381.2V443.3M1021 392.9V444.6M1023 400.3V443.2M1025 398.1V426.1M1027 395.3V426.9M1029 399.3V442.6M1031 406.1V431.8M1033 416.7V437.7M1035 410.9V446.6M1037 410.9V440.1M1039 415.9V447.3M1041 427.0V448.6M1043 426.5V442.4M1045 424.3V436.5M1047 420.5V441.5M1049 407.4V445.0M1051 428.3V458.6M1053 442.6V459.1M1055 441.8V458.3M1057 426.5V462.9M1059 445.9V468.7M1061 442.1V468.7M1063 445.6V468.7M1065 454.1V468.7M1067 453.5V459.8M1069 451.1V461.6M1071 450.7V468.9M1073 446.6V464.2M1075 456.4V470.8M1077 453.0V476.7M1079 442.6V460.4M1081 442.2V460.7M1083 439.4V461.5M1085 436.5V462.1M1087 443.0V460.4M1089 440.5V468.7M1091 431.0V454.1M1093 419.4V439.6M1095 430.4V440.5M1097 430.3V452.8M1099 432.5V464.7M1101 430.7V456.9M1103 428.5V455.5M1105 454.1V472.7M1107 452.6V473.9M1109 448.4V472.4M1111 445.4V471.9M1113 433.5V480.8M1115 449.4V479.8M1117 458.6V480.1M1119 458.0V492.0M1121 449.6V496.9M1123 453.0V485.5M1125 461.5V487.6M1127 460.3V484.8M1129 460.2V480.4M1131 460.2V476.0M1133 460.2V480.8M1135 461.7V486.2M1137 467.3V490.0M1139 466.9V499.9M1141 468.7V496.1M1143 464.7V487.7M1145 470.4V494.8M1147 471.6V495.1M1149 476.7V496.6M1151 488.5V507.9M1153 480.8V504.3M1155 485.6V495.0M1157 481.4V491.5M1159 480.1V492.5M1161 475.7V492.8M1163 476.8V492.8M1165 476.7V492.8M1167 462.7V492.8M1169 469.5V484.6M1171 461.2V482.8M1173 455.6V483.5M1175 463.0V480.8M1177 462.7V479.6M1179 459.7V481.0M1181 468.7V483.0M1183 472.4V488.8M1185 464.7V486.4M1187 470.5V484.9M1189 478.9V486.8M1191 476.7V497.9M1193 478.2V499.9M1195 472.8V495.0M1197 471.5V483.7M1199 457.6V484.6M1201 462.1V488.8M1203 470.5V478.3M1205 468.6V487.8M1207 463.2V487.9M1209 463.2V481.0M1211 463.2V488.8M1213 463.2V477.4M1215 460.1V478.9M1217 453.2V476.3M1219 446.1V470.7M1221 444.6V471.7M1223 445.0V476.6M1225 448.4V470.6M1227 440.5V484.8M1229 449.0V475.4M1231 436.7V454.0M1233 431.5V460.7M1235 444.8V473.1M1237 454.4V485.8M1239 452.6V466.0M1241 442.1V457.6M1243 435.5V460.7M1245 449.2V460.2M1247 452.6V467.1M1249 454.7V468.7M1251 446.0V464.8M1253 442.6V476.6M1255 454.6V478.8M1257 443.7V468.9M1259 442.4V453.8M1261 439.5V458.6M1263 437.0V458.8M1265 436.5V450.7M1267 431.5V459.2M1269 443.7V460.7M1271 446.6V461.8M1273 438.5V455.3M1275 436.4V458.5M1277 418.4V468.7M1279 430.7V458.5M1281 450.4V465.8M1283 452.6V468.0M1285 438.8V472.7M1287 414.4V469.6M1289 431.4V453.3M1291 446.3V470.7M1293 442.6V466.8M1295 433.4V486.8M1297 421.4V482.0M1299 449.3V471.6M1301 454.7V472.7M1303 454.6V471.0M1305 457.4V486.8M1307 439.5V481.4M1309 460.6V492.2M1311 458.6V491.2M1313 454.7V498.9M1315 450.6V485.9M1317 441.6V484.6M1319 447.5V484.8M1321 459.7V468.8M1323 446.6V470.0M1325 451.5V467.2M1327 452.6V476.7M1329 451.7V476.7M1331 442.9V476.7M1333 433.5V476.7M1335 445.9V471.4M1337 446.6V465.0M1339 455.3V467.8M1341 441.6V464.6M1343 443.4V468.7M1345 454.3V465.5M1347 448.6V467.9M1349 444.1V480.8M1351 421.4V476.0M1353 436.0V460.0M1355 441.9V474.7M1357 445.6V479.3M1359 447.8V492.8M1361 448.5V484.3M1363 451.2V469.2M1365 441.6V476.7M1367 445.7V480.4M1369 454.9V490.8M1371 447.6V486.7M1373 456.5V489.3M1375 462.7V488.8M1377 468.3V485.3M1379 474.5V486.9M1381 478.1V500.9M1383 466.7V502.3M1385 483.3V501.6M1387 481.8V497.0M1389 482.8V508.0M1391 486.7V510.9M1393 466.7V507.7M1395 473.1V504.8M1397 483.9V500.9M1399 484.8V498.9M1401 487.1V499.3M1403 487.9V499.4M1405 485.9V506.0M1407 492.6V508.9M1409 481.8V503.7M1411 480.8V495.4M1413 479.2V502.9M1415 480.5V497.5M1417 483.1V490.8M1419 475.5V494.8M1421 472.7V491.6M1423 477.3V503.3M1425 478.8V512.9M1427 480.8V500.6M1429 484.1V505.1M1431 477.3V508.3M1433 474.7V508.9M1435 486.2V508.2M1437 497.5V506.3M1439 492.8V512.9M1441 478.9V503.9M1443 464.7V515.5M1445 500.0V529.0M1447 508.9V518.1M1449 510.1V515.9M1451 504.0V517.0M1453 501.9V523.1M1455 507.8V522.7M1457 511.8V537.1M1459 512.9V535.7M1461 519.4V532.5M1463 510.4V533.3M1465 507.8V533.1M1467 505.9V526.0M1469 515.4V537.7M1471 508.4V536.7M1473 505.0V541.0M1475 505.2V545.1M1477 505.0V537.0M1479 500.9V528.0M1481 502.2V525.0M1483 499.3V520.8M1485 485.8V512.4M1487 488.6V507.8M1489 492.3V510.9M1491 492.8V507.3M1493 494.6V511.7M1495 497.1V505.4M1497 489.8V512.9M1499 491.8V504.9M1501 496.1V510.8M1503 497.9V510.9M1505 492.8V506.0M1507 502.3V517.2M1509 506.9V523.0M1511 506.0V517.9M1513 491.9V515.7M1515 486.8V514.6M1517 495.5V517.0M1519 494.8V515.3M1521 500.4V513.9M1523 497.3V524.6M1525 505.4V529.0M1527 497.9V518.8M1529 510.8V525.6M1531 515.5V523.4M1533 515.6V533.1M1535 510.9V526.9M1537 510.9V528.0M1539 513.8V524.8M1541 517.0V527.0"/>
</g>
<g id="legend">
<path d="M1192 167 H1290" stroke="#8a96ff" stroke-width="3.4" fill="none"/>
<text x="1317" y="183.0" font-size="51.8">1500 r/min</text>
<path d="M1192 237 H1290" stroke="#7fd0ff" stroke-width="3.4" fill="none"/>
<text x="1316" y="254.4" font-size="51.8">3000 r/min</text>
<path d="M1192 307 H1295" stroke="#b86eff" stroke-width="3.4" fill="none"/>
<text x="1320" y="323.3" font-size="51.8">5000 r/min</text>
</g>
</g>
</svg>
</body>
</html>
